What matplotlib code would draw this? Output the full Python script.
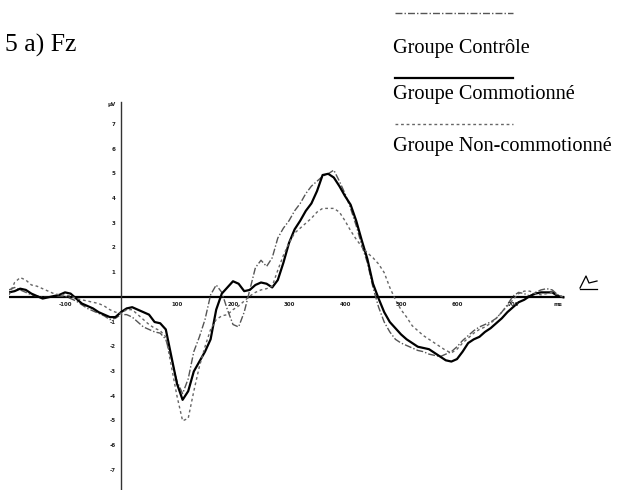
import numpy as np
import matplotlib
matplotlib.use("Agg")
import matplotlib.pyplot as plt
from matplotlib.lines import Line2D

# time axis in ms, one sample every 10 ms
t_ms = list(range(-200, 800, 10))

# grand-average ERP at Fz (µV)
commotionne = [
    0.2, 0.25, 0.35, 0.3, 0.15, 0.05, -0.05, 0.0, 0.05, 0.1,
    0.2, 0.15, -0.05, -0.25, -0.35, -0.45, -0.6, -0.7, -0.8, -0.8,
    -0.6, -0.45, -0.4, -0.5, -0.6, -0.7, -1.0, -1.05, -1.3, -2.4,
    -3.5, -4.15, -3.8, -3.0, -2.6, -2.2, -1.7, -0.5, 0.15, 0.4,
    0.65, 0.55, 0.25, 0.3, 0.5, 0.6, 0.55, 0.4, 0.7, 1.4,
    2.2, 2.75, 3.1, 3.5, 3.8, 4.3, 4.95, 5.0, 4.85, 4.5,
    4.1, 3.75, 3.1, 2.3, 1.55, 0.55, -0.05, -0.6, -1.0, -1.25,
    -1.5, -1.7, -1.85, -2.0, -2.05, -2.1, -2.25, -2.4, -2.55, -2.6,
    -2.5, -2.2, -1.85, -1.7, -1.6, -1.4, -1.25, -1.05, -0.85, -0.6,
    -0.4, -0.2, -0.1, 0.05, 0.15, 0.2, 0.2, 0.2, 0.05, 0.0,
]
controle = [
    0.3, 0.4, 0.3, 0.2, 0.1, 0.05, 0.0, 0.0, 0.05, 0.05,
    0.05, -0.05, -0.15, -0.3, -0.45, -0.55, -0.65, -0.75, -0.9, -0.85,
    -0.7, -0.7, -0.8, -1.0, -1.2, -1.3, -1.4, -1.45, -1.7, -2.5,
    -3.4, -3.9, -3.3, -2.2, -1.6, -0.9, 0.1, 0.5, 0.2, -0.5,
    -1.1, -1.2, -0.6, 0.3, 1.2, 1.5, 1.25, 1.6, 2.4, 2.8,
    3.1, 3.5, 3.8, 4.2, 4.5, 4.7, 4.9, 5.0, 5.15, 4.7,
    4.2, 3.6, 2.9, 2.1, 1.4, 0.4, -0.4, -1.0, -1.4, -1.7,
    -1.85, -1.95, -2.05, -2.15, -2.2, -2.3, -2.35, -2.4, -2.3, -2.2,
    -2.0, -1.75, -1.55, -1.35, -1.2, -1.1, -1.0, -0.85, -0.6, -0.3,
    0.05, 0.2, 0.15, 0.05, 0.2, 0.3, 0.35, 0.3, 0.1, 0.0,
]
non_commotionne = [
    0.1, 0.6, 0.8, 0.7, 0.5, 0.45, 0.35, 0.25, 0.15, 0.1,
    0.1, 0.05, -0.05, -0.1, -0.15, -0.2, -0.25, -0.35, -0.5, -0.6,
    -0.65, -0.5, -0.5, -0.7, -0.9, -1.1, -1.25, -1.35, -1.6, -2.8,
    -4.0, -5.0, -4.9, -3.8, -2.8, -2.0, -1.3, -0.9, -0.75, -0.7,
    -0.5, -0.35, -0.15, 0.05, 0.2, 0.3, 0.35, 0.45, 1.1, 1.7,
    2.2, 2.6, 2.8, 3.0, 3.2, 3.45, 3.6, 3.6, 3.6, 3.45,
    3.1, 2.7, 2.35, 2.05, 1.8, 1.6, 1.35, 1.0, 0.4, -0.1,
    -0.5, -0.8, -1.15, -1.35, -1.55, -1.7, -1.85, -2.0, -2.15, -2.25,
    -2.1, -1.85, -1.65, -1.45, -1.3, -1.2, -1.05, -0.85, -0.6, -0.35,
    -0.1, 0.15, 0.25, 0.25, 0.15, 0.1, 0.15, 0.2, 0.1, 0.0,
]

x_ticks = [-100, 100, 200, 300, 400, 500, 600, 700]
y_ticks = [7, 6, 5, 4, 3, 2, 1, -1, -2, -3, -4, -5, -6, -7]

groups = ["Groupe Contrôle", "Groupe Commotionné", "Groupe Non-commotionné"]
styles = {
    "Groupe Contrôle": dict(color="#555555", lw=1.0, ls=(0, (5, 1.5, 1, 1.5))),
    "Groupe Commotionné": dict(color="black", lw=1.6, ls="-"),
    "Groupe Non-commotionné": dict(color="#666666", lw=1.0, ls=(0, (2, 2))),
}
series = {
    "Groupe Contrôle": controle,
    "Groupe Commotionné": commotionne,
    "Groupe Non-commotionné": non_commotionne,
}

W, H = 617, 490
fig = plt.figure(figsize=(W / 100, H / 100), dpi=100)
ax = fig.add_axes([9 / W, 0.0, 560 / W, 390.3 / H])
ax.set_xlim(-200, 800)
ax.set_ylim(-7.8, 8.0)
ax.axis("off")

# axes drawn by hand, like the original software
ax.plot([-200, 790], [0, 0], color="black", lw=1.6, zorder=1)
ax.plot([0, 0], [-7.8, 7.9], color="#333333", lw=1.0, zorder=1)

for g in groups:
    ax.plot(t_ms, series[g], zorder=3, **styles[g])

tick_font = dict(fontsize=4, color="#222222", fontweight="bold")
for xt in x_ticks:
    ax.text(xt, -0.2, str(xt), ha="center", va="top", **tick_font)
ax.text(780, -0.2, "ms", ha="center", va="top", **tick_font)
for yt in y_ticks:
    ax.text(-10, yt, str(yt), ha="right", va="center", **tick_font)
ax.text(-10, 7.8, "µV", ha="right", va="center", **tick_font)

serif = "Liberation Serif"
fig.text(5 / W, 1 - 52 / H, "5 a) Fz", fontsize=18.5, family=serif,
         va="baseline")

# legend: sample line above each label
line_y = [13, 78, 124]
text_y = [53, 99, 151]
for g, ly, ty in zip(groups, line_y, text_y):
    fig.add_artist(Line2D([395 / W, 513 / W], [1 - ly / H, 1 - ly / H],
                          transform=fig.transFigure, **styles[g]))
    fig.text(393 / W, 1 - ty / H, g, fontsize=14.6, family=serif,
             va="baseline")

# small pen mark at the right of the baseline
mark_x = [580, 586, 589, 597]
mark_y = [288, 276, 283, 281]
fig.add_artist(Line2D([x / W for x in mark_x], [1 - y / H for y in mark_y],
                      transform=fig.transFigure, color="black", lw=0.9))
fig.add_artist(Line2D([580 / W, 597 / W], [1 - 289 / H, 1 - 289 / H],
                      transform=fig.transFigure, color="black", lw=0.9))

fig.savefig("out.png", dpi=100)
